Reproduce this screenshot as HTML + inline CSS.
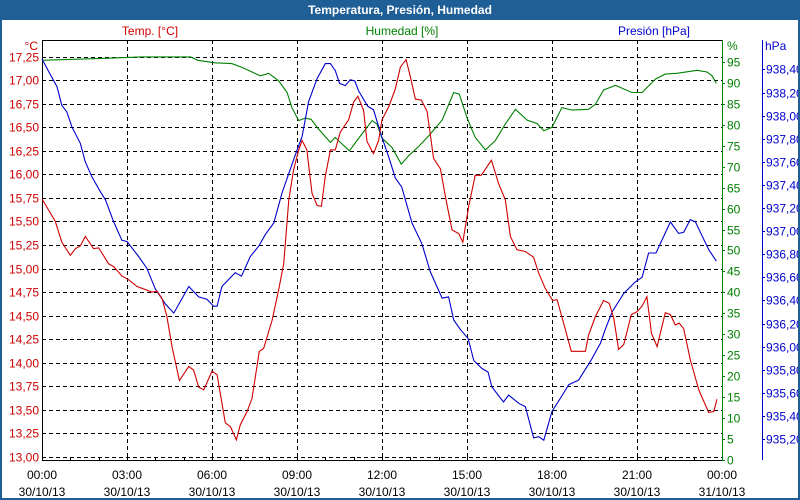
<!DOCTYPE html>
<html><head><meta charset="utf-8"><style>
html,body{margin:0;padding:0;background:#fff}
#wrap{position:relative;width:800px;height:500px;box-sizing:border-box;border:2px solid #1f5f96;border-top:none;overflow:hidden;background:#fff}
#title{position:absolute;left:0;top:0;width:796px;height:20px;background:#1f5f96;color:#fff;font:bold 12px "Liberation Sans",sans-serif;text-align:center;line-height:20px}
svg{position:absolute;left:-2px;top:0}
text{font-family:"Liberation Sans",sans-serif;font-size:12px}
</style></head><body>
<div id="wrap">
<div id="title">Temperatura, Presión, Humedad</div>
<svg id="chart" width="800" height="500"></svg>
</div>
<script>
const timesT=[0,0.47,0.7,1,1.18,1.35,1.53,1.82,2,2.35,2.53,2.82,3.06,3.35,3.88,4.06,4.24,4.41,4.59,4.85,5.18,5.35,5.53,5.71,6,6.18,6.47,6.65,6.86,7,7.24,7.41,7.67,7.82,8.12,8.35,8.53,8.71,8.88,9.06,9.18,9.35,9.53,9.71,9.86,10,10.18,10.35,10.53,10.82,11,11.15,11.35,11.47,11.7,11.88,12,12.24,12.47,12.65,12.85,13,13.18,13.39,13.59,13.82,14.06,14.24,14.47,14.71,14.85,15.06,15.29,15.5,15.86,16.12,16.35,16.53,16.76,17.06,17.35,17.53,17.76,18.02,18.18,18.41,18.68,19.18,19.29,19.53,19.82,20.02,20.18,20.35,20.53,20.8,21,21.18,21.35,21.51,21.71,22,22.18,22.35,22.49,22.65,22.88,23.18,23.53,23.71,23.82];
const temp=[15.74,15.5,15.28,15.14,15.21,15.24,15.34,15.21,15.22,15.05,15.02,14.92,14.88,14.81,14.75,14.76,14.68,14.49,14.17,13.81,13.96,13.92,13.74,13.71,13.91,13.87,13.36,13.32,13.18,13.34,13.48,13.62,14.12,14.15,14.45,14.77,15.05,15.73,16.05,16.26,16.36,16.26,15.8,15.67,15.66,15.98,16.26,16.26,16.45,16.58,16.77,16.83,16.68,16.35,16.22,16.36,16.58,16.72,16.91,17.14,17.22,17.04,16.8,16.79,16.67,16.17,16.06,15.76,15.41,15.37,15.28,15.66,15.99,15.99,16.15,15.9,15.73,15.34,15.2,15.18,15.12,14.95,14.79,14.66,14.67,14.42,14.12,14.12,14.29,14.49,14.66,14.63,14.47,14.14,14.19,14.51,14.54,14.6,14.7,14.31,14.17,14.53,14.51,14.4,14.42,14.36,14.03,13.71,13.47,13.48,13.61];
const timesH=[0,0.94,2.35,3.5,5.24,5.5,6.1,6.7,7.06,7.7,8,8.35,8.65,8.82,9.06,9.29,9.5,9.76,10.18,10.35,10.53,10.85,11.29,11.65,11.82,12,12.35,12.68,12.94,13.29,13.65,14.12,14.53,14.73,15,15.29,15.65,16,16.35,16.71,17.12,17.47,17.71,18,18.35,18.71,19.29,19.53,19.82,20.24,20.82,21.18,21.65,22,22.41,23.12,23.47,23.65,23.8];
const hum=[95.4,95.6,95.9,96.2,96.2,95.4,94.8,94.6,93.7,91.7,92.3,90.5,87.7,84.1,81,81.6,81.3,79,75.8,77,75.8,73.8,77.8,81,80.2,76.8,74.6,70.6,72.6,74.8,77.4,81.1,87.7,87.3,81.7,77,74,76.2,80.2,83.7,81.1,80.3,78.6,79.4,84.1,83.5,83.7,84.9,88.3,89.4,87.7,87.7,90.9,92.1,92.3,93,92.6,91.7,89.9];
const timesP=[0,0.24,0.53,0.7,0.88,1.06,1.35,1.53,1.76,2.06,2.24,2.53,2.82,3,3.41,3.7,4,4.35,4.65,5.18,5.53,5.82,6.06,6.18,6.35,6.82,7.04,7.35,7.65,7.88,8.18,8.47,8.71,8.94,9.18,9.41,9.71,10,10.18,10.35,10.5,10.7,10.88,11.04,11.18,11.5,11.7,12,12.24,12.47,12.7,13.06,13.41,13.7,14.12,14.35,14.53,14.76,15.04,15.24,15.53,15.74,15.88,16.29,16.47,16.82,17.06,17.35,17.53,17.71,18,18.29,18.59,18.94,19.35,19.71,19.88,20.12,20.53,20.94,21.18,21.41,21.67,22.18,22.47,22.65,22.88,23.06,23.53,23.8];
const pres=[938.49,938.38,938.25,938.09,938.03,937.9,937.76,937.6,937.47,937.34,937.27,937.08,936.92,936.91,936.78,936.68,936.5,936.37,936.29,936.52,936.43,936.41,936.35,936.35,936.52,936.64,936.61,936.78,936.87,936.97,937.07,937.33,937.5,937.66,937.82,938.12,938.32,938.45,938.45,938.39,938.28,938.26,938.31,938.3,938.21,938.08,938.05,937.81,937.64,937.46,937.38,937.07,936.89,936.65,936.42,936.43,936.23,936.15,936.07,935.88,935.81,935.78,935.65,935.52,935.58,935.51,935.48,935.21,935.22,935.19,935.44,935.55,935.67,935.71,935.87,936.03,936.15,936.3,936.46,936.56,936.6,936.81,936.81,937.08,936.98,936.99,937.1,937.08,936.84,936.74];
const tempTicks=["13,00","13,25","13,50","13,75","14,00","14,25","14,50","14,75","15,00","15,25","15,50","15,75","16,00","16,25","16,50","16,75","17,00","17,25"];
const humTicks=["0","5","10","15","20","25","30","35","40","45","50","55","60","65","70","75","80","85","90","95"];
const presTicks=["935,20","935,40","935,60","935,80","936,00","936,20","936,40","936,60","936,80","937,00","937,20","937,40","937,60","937,80","938,00","938,20","938,40"];
const timeLabels=["00:00","03:00","06:00","09:00","12:00","15:00","18:00","21:00","00:00"];
const dateLabels=["30/10/13","30/10/13","30/10/13","30/10/13","30/10/13","30/10/13","30/10/13","30/10/13","31/10/13"];

const X0=42,X1=722,T=40,B=460;
const xs=t=>X0+(X1-X0)*t/24;
const yT=v=>456.7-(v-13)*94.1;
const yH=v=>460-v*4.19;
const yP=v=>439-(v-935.2)*115.5;
const svg=document.getElementById('chart');
const NS='http://www.w3.org/2000/svg';
function mk(tag,at,txt){const e=document.createElementNS(NS,tag);for(const k in at)e.setAttribute(k,at[k]);if(txt!==undefined)e.textContent=txt;svg.appendChild(e);return e;}
const RED='#d00000',GRN='#008000',BLU='#0000cc';
// grid
tempTicks.forEach((s,i)=>{const y=Math.round(yT(13+i*0.25))+0.5;
 const g=mk('line',{x1:X0,x2:X1,y1:y,y2:y,stroke:'#000','stroke-dasharray':'4,3','stroke-width':1});
 
 const l=mk('text',{x:X0-3,y:y+4,'text-anchor':'end',fill:RED},s);
 });
for(let h=3;h<24;h+=3){const x=Math.round(xs(h))+0.5;
 const g=mk('line',{x1:x,x2:x,y1:T,y2:B,stroke:'#000','stroke-dasharray':'4,3'});
 }
for(let h=0;h<=24;h++){const x=Math.round(xs(h))+0.5;
 const k=mk('line',{x1:x,x2:x,y1:B-3,y2:B,stroke:'#000'});
 }
timeLabels.forEach((s,i)=>{const x=xs(i*3);
 const a=mk('text',{x:x,y:479,'text-anchor':'middle',fill:'#000'},s);
 
 const b=mk('text',{x:x,y:496,'text-anchor':'middle',fill:'#000'},dateLabels[i]);
 });
humTicks.forEach((s,i)=>{const y=Math.round(yH(i*5))+0.5;
 const k=mk('line',{x1:X1,x2:X1+3,y1:y,y2:y,stroke:GRN});
 
 const l=mk('text',{x:X1+5,y:y+4,fill:GRN},s);
 });
presTicks.forEach((s,i)=>{const y=Math.round(yP(935.2+i*0.2))+0.5;
 const k=mk('line',{x1:762,x2:765,y1:y,y2:y,stroke:BLU});
 
 const l=mk('text',{x:766,y:y+4,fill:BLU},s);
 });
// axes
let a;
a=mk('line',{x1:X0,x2:X1,y1:T+0.5,y2:T+0.5,stroke:'#000'});
a=mk('line',{x1:X0,x2:X1,y1:B+0.5,y2:B+0.5,stroke:'#000'});
a=mk('line',{x1:X0+0.5,x2:X0+0.5,y1:T,y2:B,stroke:'#000'});
a=mk('line',{x1:X1+0.5,x2:X1+0.5,y1:T,y2:B+1,stroke:GRN});
a=mk('line',{x1:762.5,x2:762.5,y1:T,y2:B,stroke:BLU});
// titles
a=mk('text',{x:150,y:35,'text-anchor':'middle',fill:RED},'Temp. [°C]');
a=mk('text',{x:402,y:35,'text-anchor':'middle',fill:GRN},'Humedad [%]');
a=mk('text',{x:654,y:35,'text-anchor':'middle',fill:BLU},'Presión [hPa]');
a=mk('text',{x:38,y:50,'text-anchor':'end',fill:RED},'°C');
a=mk('text',{x:727,y:50,fill:GRN},'%');
a=mk('text',{x:765,y:50,fill:BLU},'hPa');
// series
function series(ts,vs,fy,col,name){const d=ts.map((t,i)=>(i?'L':'M')+xs(t).toFixed(1)+','+fy(vs[i]).toFixed(1)).join('');
 const p=mk('path',{d:d,fill:'none',stroke:col,'stroke-width':1.1});
 }
series(timesH,hum,yH,GRN,'humidity-line');
series(timesP,pres,yP,BLU,'pressure-line');
series(timesT,temp,yT,RED,'temperature-line');
</script>
</body></html>
